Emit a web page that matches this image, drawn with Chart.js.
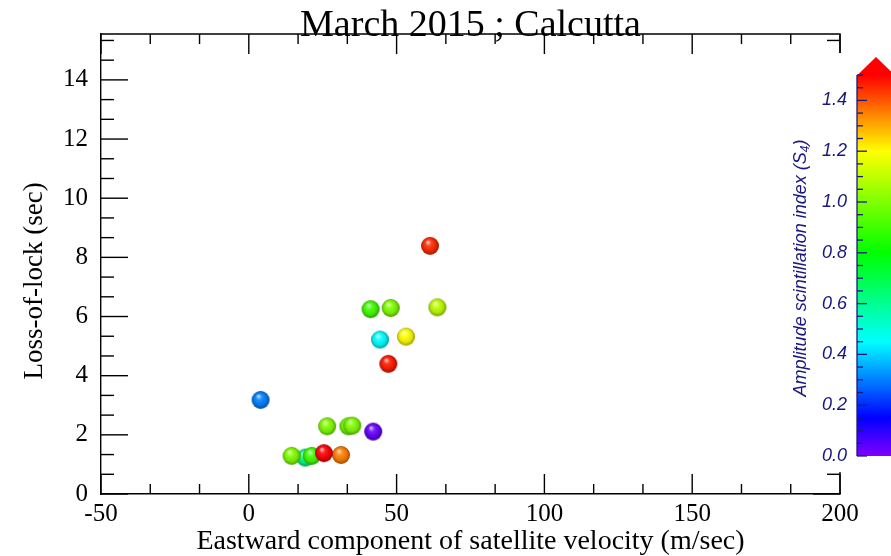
<!DOCTYPE html>
<html><head><meta charset="utf-8">
<style>html,body{margin:0;padding:0;background:#fff;overflow:hidden}canvas{display:block}</style>
<script src="https://cdn.jsdelivr.net/npm/chart.js@4.4.1/dist/chart.umd.min.js"></script>
</head><body>
<canvas id="c" width="891" height="556"></canvas>
<script>
// ---- data ----
const velocity   = [19.1, 14.5, 21.3, 31.2, 25.4, 26.5, 33.7, 35.0, 42.1, 4.0, 47.2, 44.4, 53.2, 41.2, 48.0, 63.8, 61.3];
const lossOfLock = [1.23, 1.29, 1.29, 1.32, 1.38, 2.29, 2.29, 2.31, 2.11, 3.18, 4.40, 5.22, 5.32, 6.25, 6.29, 6.31, 8.39];
const s4Index    = [0.62, 1.0, 0.9, 1.35, 1.5, 1.0, 0.97, 1.0, 0.03, 0.3, 1.47, 0.45, 1.2, 0.9, 1.0, 1.1, 1.45];
const xTicks  = [-50, 0, 50, 100, 150, 200];
const yTicks  = [0, 2, 4, 6, 8, 10, 12, 14];
const s4Ticks = [0.0, 0.2, 0.4, 0.6, 0.8, 1.0, 1.2, 1.4];

// ---- colour map (rainbow) ----
const cmap = [[0.0,[128,0,255]],[0.15,[0,0,255]],[0.45,[0,255,255]],[0.8,[0,255,0]],[1.2,[255,255,0]],[1.5,[255,0,0]]];
function colorAt(v){
  if (v <= cmap[0][0]) return cmap[0][1].slice();
  for (let i=1;i<cmap.length;i++){
    if (v <= cmap[i][0]){
      const [v0,c0]=cmap[i-1],[v1,c1]=cmap[i]; const t=(v-v0)/(v1-v0);
      return c0.map((c,k)=>Math.round(c+(c1[k]-c)*t));
    }
  }
  return cmap[cmap.length-1][1].slice();
}
const rgb = (c,f=1)=>`rgb(${Math.round(c[0]*f)},${Math.round(c[1]*f)},${Math.round(c[2]*f)})`;
const mixW = (c,t)=>`rgb(${Math.round(c[0]+(255-c[0])*t)},${Math.round(c[1]+(255-c[1])*t)},${Math.round(c[2]+(255-c[2])*t)})`;
function sphere(c, r){
  const s = Math.ceil(r*2)+2, cv=document.createElement('canvas'); cv.width=cv.height=s;
  const g=cv.getContext('2d'), cx=s/2, cy=s/2;
  const gr=g.createRadialGradient(cx-r*0.25, cy-r*0.45, r*0.05, cx, cy, r);
  gr.addColorStop(0, mixW(c,0.75));
  gr.addColorStop(0.3, mixW(c,0.12));
  gr.addColorStop(0.72, rgb(c,0.9));
  gr.addColorStop(1, rgb(c,0.6));
  g.fillStyle=gr; g.beginPath(); g.arc(cx,cy,r,0,Math.PI*2); g.fill();
  return cv;
}
const pointImgs = s4Index.map(v=>sphere(colorAt(v), 9));

const SERIF = 'Liberation Serif';
const NAVY = '#18187e';

const framePlugin = {
  id:'frame',
  afterDraw(chart){
    const {ctx, chartArea:a, scales:{x, y}} = chart;
    ctx.save();
    ctx.strokeStyle='#000'; ctx.lineWidth=1.4;
    ctx.beginPath(); ctx.moveTo(a.left,a.top); ctx.lineTo(a.right,a.top); ctx.lineTo(a.right,a.bottom); ctx.stroke();
    const line=(x1,y1,x2,y2)=>{ctx.beginPath();ctx.moveTo(x1,y1);ctx.lineTo(x2,y2);ctx.stroke();};
    // x ticks (inward, bottom and top)
    xTicks.forEach((v,i)=>{
      const p=x.getPixelForValue(v);
      line(p,a.bottom,p,a.bottom-20); line(p,a.top,p,a.top+20);
      if (i<xTicks.length-1){
        const st=(xTicks[i+1]-v)/3;
        for (let k=1;k<3;k++){const q=x.getPixelForValue(v+k*st); line(q,a.bottom,q,a.bottom-10); line(q,a.top,q,a.top+10);}
      }
    });
    // y ticks (inward, left and right)
    const yStep = yTicks[1]-yTicks[0];
    const yAll = [];
    for (let v=yTicks[0]; v<=y.max+1e-9; v+=yStep/3) yAll.push(v);
    yAll.forEach((v,i)=>{
      const p=y.getPixelForValue(v); const major = i%3===0; const L = major?27:13;
      line(a.left,p,a.left+L,p); line(a.right,p,a.right-L,p);
    });
    // white panel for colour bar
    ctx.fillStyle='#fff'; ctx.fillRect(781,53,110,419);
    // colour bar
    const cbX=857, cbW=38, cbB=456, cbT=75, cbMax=1.5;
    const vy = v=>cbB-(cbB-cbT)*v/cbMax;
    const lg=ctx.createLinearGradient(0,cbB,0,cbT);
    cmap.forEach(([v,c])=>lg.addColorStop(v/cbMax, rgb(c)));
    ctx.fillStyle=lg; ctx.fillRect(cbX,cbT,cbW,cbB-cbT);
    ctx.fillStyle='rgb(255,0,0)';
    ctx.beginPath(); ctx.moveTo(cbX,cbT+0.5); ctx.lineTo(cbX+cbW/2,57); ctx.lineTo(cbX+cbW,cbT+0.5); ctx.closePath(); ctx.fill();
    ctx.strokeStyle=NAVY; ctx.lineWidth=1.3;
    line(cbX,cbT,cbX,cbB);
    for (let k=0;k<=30;k++){ const v=k*0.05; const p=vy(v); line(cbX,p,cbX+(k%4===0?10:6),p); }
    ctx.fillStyle=NAVY; ctx.font='italic 18px "Liberation Sans"'; ctx.textAlign='right'; ctx.textBaseline='middle';
    s4Ticks.forEach(v=>ctx.fillText(v.toFixed(1), 847, vy(v)));
    // rotated colour bar title with subscript
    ctx.translate(801,268); ctx.rotate(-Math.PI/2);
    const fMain='italic 18px "Liberation Sans"', fSub='italic 12px "Liberation Sans"';
    const t1='Amplitude scintillation index (S', t2='4', t3=')';
    ctx.font=fMain; const w1=ctx.measureText(t1).width, w3=ctx.measureText(t3).width;
    ctx.font=fSub; const w2=ctx.measureText(t2).width;
    let sx=-(w1+w2+w3)/2; ctx.textAlign='left';
    ctx.font=fMain; ctx.fillText(t1,sx,0); sx+=w1;
    ctx.font=fSub; ctx.fillText(t2,sx,5); sx+=w2;
    ctx.font=fMain; ctx.fillText(t3,sx,0);
    ctx.restore();
  }
};

new Chart(document.getElementById('c').getContext('2d'), {
  type:'scatter',
  data:{datasets:[{
    data: velocity.map((v,i)=>({x:v, y:lossOfLock[i]})),
    pointStyle: pointImgs,
    backgroundColor: s4Index.map(v=>rgb(colorAt(v))),
    pointRadius:9, pointHoverRadius:9
  }]},
  options:{
    responsive:false, animation:false, devicePixelRatio:1,
    layout:{padding:{left:0,right:51,top:0,bottom:0}},
    plugins:{
      legend:{display:false}, tooltip:{enabled:false},
      title:{display:true, fullSize:false, text:'March 2015 ; Calcutta', color:'#000',
        font:{family:SERIF, size:38, weight:'normal', lineHeight:1.08}, padding:{top:5,bottom:-12}}
    },
    scales:{
      x:{type:'linear', min:-50, max:200,
        afterBuildTicks:s=>{s.ticks=xTicks.map(v=>({value:v}));},
        afterFit:s=>{s.height=62;},
        grid:{display:false, drawTicks:false},
        border:{display:true, color:'#000', width:1.4},
        ticks:{color:'#000', font:{family:SERIF, size:25}, padding:5, maxRotation:0, autoSkip:false},
        title:{display:true, text:'Eastward component of satellite velocity (m/sec)', color:'#000',
          font:{family:SERIF, size:28}, padding:{top:0,bottom:-2}}
      },
      y:{type:'linear', min:0, max:15.55,
        afterBuildTicks:s=>{s.ticks=yTicks.map(v=>({value:v}));},
        afterFit:s=>{s.width=101;},
        grid:{display:false, drawTicks:false},
        border:{display:true, color:'#000', width:1.4},
        ticks:{color:'#000', font:{family:SERIF, size:25}, padding:13, autoSkip:false},
        title:{display:true, text:'Loss-of-lock (sec)     ', color:'#000',
          font:{family:SERIF, size:27}, padding:{top:19,bottom:0}}
      }
    }
  },
  plugins:[framePlugin]
});
</script>
</body></html>
